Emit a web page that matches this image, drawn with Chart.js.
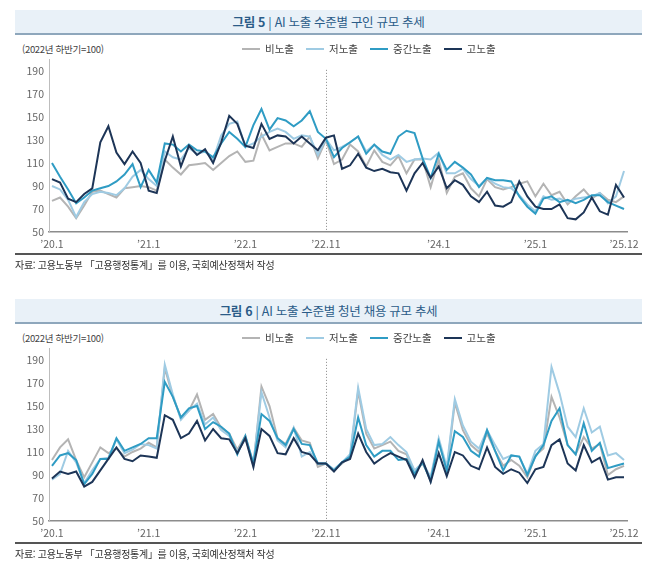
<!DOCTYPE html>
<html lang="ko">
<head>
<meta charset="UTF-8">
<title>AI 노출 수준별 구인·채용 규모 추세</title>
<script src="https://cdn.jsdelivr.net/npm/chart.js@4/dist/chart.umd.min.js"></script>
<style>
    body {
        margin: 0;
        width: 658px;
        height: 566px;
        background: #fff;
        font-family: "Noto Sans CJK KR", sans-serif;
        position: relative;
        overflow: hidden;
    }
    .panel {
        position: absolute;
        left: 0;
        width: 658px;
        height: 289px;
    }
    .titleBar {
        position: absolute;
        left: 15px;
        top: 10px;
        width: 627px;
        height: 23px;
        background: #e9f1f8;
        border-bottom: 2px solid #8ea7bc;
        text-align: center;
        line-height: 23px;
        font-size: 12.5px;
        color: #2b5c88;
        letter-spacing: -0.3px;
    }
    .titleBar b { font-weight: 700; }
    .unit {
        position: absolute;
        left: 22px;
        top: 42px;
        font-size: 9.5px;
        color: #444;
        letter-spacing: -0.3px;
        line-height: 14px;
    }
    .legend {
        position: absolute;
        left: 242px;
        top: 42px;
        display: flex;
        gap: 12px;
        font-size: 10.5px;
        color: #444;
        line-height: 14px;
        z-index: 2;
    }
    .legend span.item { display: flex; align-items: center; }
    .legend i {
        display: inline-block;
        width: 18px;
        height: 2.5px;
        margin-right: 5px;
    }
    canvas {
        position: absolute;
        left: 0;
        top: 40px;
    }
    .sep {
        position: absolute;
        left: 15px;
        top: 253px;
        width: 627px;
        height: 1.5px;
        background: #555;
    }
    .source {
        position: absolute;
        left: 15px;
        top: 258px;
        font-size: 10px;
        color: #333;
        letter-spacing: -0.3px;
        line-height: 14px;
    }
</style>
</head>
<body>
<div class="panel" style="top:0px">
    <div class="titleBar"><b>그림 5</b> | AI 노출 수준별 구인 규모 추세</div>
    <div class="unit">(2022년 하반기=100)</div>
    <div class="legend" id="legend1"></div>
    <div style="position:absolute;left:0;top:0;width:658px;height:289px">
        <canvas id="chart1" width="658" height="215"></canvas>
    </div>
    <div class="sep"></div>
    <div class="source">자료: 고용노동부 「고용행정통계」를 이용, 국회예산정책처 작성</div>
</div>
<div class="panel" style="top:289px">
    <div class="titleBar"><b>그림 6</b> | AI 노출 수준별 청년 채용 규모 추세</div>
    <div class="unit">(2022년 하반기=100)</div>
    <div class="legend" id="legend2"></div>
    <div style="position:absolute;left:0;top:0;width:658px;height:289px">
        <canvas id="chart2" width="658" height="215"></canvas>
    </div>
    <div class="sep"></div>
    <div class="source">자료: 고용노동부 「고용행정통계」를 이용, 국회예산정책처 작성</div>
</div>

<script>
    // series names and colours
    const seriesNames = ['비노출', '저노출', '중간노출', '고노출'];
    const seriesColors = ['#b4b4b4', '#9fcbe3', '#2f9cc4', '#1d3557'];

    // x axis: months 2020.1 ~ 2025.12 (index 0..71), labelled ticks only
    const tickIndex = [0, 12, 24, 34, 48, 60, 71];
    const tickText = ['’20.1', '’21.1', '’22.1', '’22.11', '’24.1', '’25.1', '’25.12'];
    const dividerIndex = 34;
    const yTicks = [50, 70, 90, 110, 130, 150, 170, 190];

    // 그림 5 : 구인 규모
    const jobNone = [77, 80, 72, 62, 73, 85, 86, 83, 80, 88, 89, 90, 89, 86, 113, 106, 100, 108, 109, 110, 104, 110, 116, 120, 111, 112, 135, 121, 124, 127, 127, 124, 133, 114, 130,
        109, 113, 126, 120, 107, 121, 111, 108, 116, 101, 113, 113, 89, 113, 84, 98, 101, 88,
        81, 96, 89, 87, 89, 92, 94, 81, 92, 82, 85, 74, 81, 87, 79, 84, 78, 76, 81];
    const jobLow = [90, 87, 78, 63, 76, 83, 85, 84, 82, 88, 98, 104, 96, 90, 120, 115, 113, 123, 118, 120, 113, 134, 144, 146, 124, 127, 133, 137, 140, 137, 131, 134, 133, 117, 131,
        121, 124, 128, 133, 120, 126, 117, 113, 117, 111, 113, 114, 113, 119, 101, 101, 105, 96,
        90, 97, 92, 89, 88, 82, 74, 68, 81, 78, 79, 76, 79, 80, 81, 84, 75, 81, 103];
    const jobMid = [110, 98, 87, 75, 80, 86, 88, 90, 94, 100, 109, 89, 104, 93, 127, 126, 120, 126, 121, 120, 115, 127, 137, 131, 124, 143, 157, 139, 149, 147, 142, 147, 155, 137, 131,
        115, 123, 128, 133, 118, 126, 120, 118, 133, 138, 136, 114, 97, 118, 104, 111, 106, 100,
        89, 97, 95, 95, 94, 81, 72, 66, 79, 81, 76, 78, 75, 78, 82, 82, 76, 73, 70];
    const jobHigh = [96, 93, 79, 76, 83, 88, 128, 142, 119, 109, 120, 110, 86, 84, 112, 133, 107, 125, 117, 122, 110, 128, 151, 144, 125, 123, 144, 131, 134, 133, 127, 133, 127, 121, 132,
        134, 105, 108, 118, 106, 103, 105, 102, 101, 86, 101, 110, 97, 107, 88, 95, 91, 81,
        76, 85, 73, 72, 76, 94, 81, 72, 70, 70, 74, 62, 61, 67, 80, 68, 65, 91, 80];

    // 그림 6 : 청년 채용 규모
    const youthNone = [103, 114, 121, 103, 88, 101, 114, 109, 113, 106, 110, 113, 118, 114, 183, 158, 140, 146, 160, 138, 143, 131, 126, 112, 124, 98, 167, 150, 122, 117, 131, 120, 118, 97, 100,
        94, 100, 106, 163, 126, 113, 116, 119, 111, 108, 93, 100, 87, 120, 94, 153, 129, 116,
        110, 126, 111, 98, 103, 98, 88, 107, 113, 158, 140, 116, 108, 123, 113, 117, 90, 95, 98];
    const youthLow = [86, 91, 111, 101, 83, 94, 104, 105, 121, 109, 112, 117, 116, 113, 186, 160, 138, 146, 152, 134, 140, 129, 124, 110, 122, 100, 162, 140, 120, 114, 131, 106, 110, 100, 100,
        95, 101, 108, 166, 130, 116, 117, 123, 116, 110, 94, 101, 88, 122, 97, 156, 133, 119,
        113, 129, 116, 104, 107, 106, 91, 111, 117, 184, 161, 132, 123, 148, 127, 132, 107, 109, 103];
    const youthMid = [98, 107, 109, 103, 82, 91, 104, 104, 122, 111, 114, 117, 122, 122, 171, 158, 140, 148, 150, 130, 136, 132, 126, 108, 124, 100, 143, 137, 122, 116, 130, 117, 116, 100, 100,
        94, 101, 106, 140, 116, 106, 111, 111, 103, 104, 91, 101, 85, 119, 94, 128, 123, 111,
        106, 129, 111, 94, 107, 106, 90, 106, 116, 137, 148, 116, 108, 135, 111, 118, 96, 98, 100];
    const youthHigh = [87, 93, 91, 93, 80, 84, 94, 104, 114, 104, 102, 107, 106, 105, 142, 138, 122, 126, 137, 120, 130, 122, 121, 109, 122, 97, 130, 124, 109, 108, 122, 110, 108, 100, 100,
        93, 101, 104, 126, 110, 100, 105, 109, 106, 103, 88, 103, 84, 109, 89, 110, 107, 98,
        95, 114, 97, 91, 95, 92, 83, 95, 97, 116, 121, 100, 94, 116, 101, 105, 86, 88, 88];

    const tickFont = { family: '"Noto Sans CJK KR", sans-serif', size: 10.5 };

    // dotted divider at '22.11
    const dividerPlugin = {
        id: 'divider',
        beforeDatasetsDraw(chart) {
            const { ctx, chartArea, scales } = chart;
            const x = Math.round(scales.x.getPixelForValue(dividerIndex)) + 0.5;
            ctx.save();
            ctx.strokeStyle = '#888';
            ctx.lineWidth = 1;
            ctx.setLineDash([1, 2]);
            ctx.beginPath();
            ctx.moveTo(x, scales.y.getPixelForValue(191));
            ctx.lineTo(x, chartArea.bottom);
            ctx.stroke();
            ctx.restore();
        }
    };

    function buildLegend(id) {
        const box = document.getElementById(id);
        seriesNames.forEach((name, k) => {
            const item = document.createElement('span');
            item.className = 'item';
            item.innerHTML = '<i style="background:' + seriesColors[k] + '"></i>' + name;
            box.appendChild(item);
        });
    }

    function makeChart(canvasId, seriesList) {
        const datasets = seriesList.map((values, k) => ({
            label: seriesNames[k],
            data: values.map((v, i) => ({ x: i, y: v })),
            borderColor: seriesColors[k],
            backgroundColor: seriesColors[k],
            borderWidth: 2,
            pointRadius: 0,
            tension: 0,
            order: 4 - k
        }));
        return new Chart(document.getElementById(canvasId), {
            type: 'line',
            data: { datasets: datasets },
            plugins: [dividerPlugin],
            options: {
                responsive: false,
                animation: false,
                layout: { padding: { top: 19.5, right: 31, left: 0, bottom: 0 } },
                plugins: { legend: { display: false }, tooltip: { enabled: false } },
                scales: {
                    x: {
                        type: 'linear',
                        min: -0.37,
                        max: 71.37,
                        grid: { display: false, drawTicks: false },
                        border: { display: true, color: '#8c8c8c', width: 1.5 },
                        afterBuildTicks: s => { s.ticks = tickIndex.map(v => ({ value: v })); },
                        afterFit: s => { s.height = 23; },
                        ticks: {
                            autoSkip: false,
                            maxRotation: 0,
                            padding: 6,
                            color: '#666',
                            font: tickFont,
                            callback: v => tickText[tickIndex.indexOf(v)]
                        }
                    },
                    y: {
                        min: 50,
                        max: 200,
                        grid: { display: false, drawTicks: false },
                        border: { display: true, color: '#bdbdbd', width: 1 },
                        afterBuildTicks: s => { s.ticks = yTicks.map(v => ({ value: v })); },
                        afterFit: s => { s.width = 49; },
                        ticks: { padding: 5, color: '#666', font: tickFont }
                    }
                }
            }
        });
    }

    buildLegend('legend1');
    buildLegend('legend2');
    makeChart('chart1', [jobNone, jobLow, jobMid, jobHigh]);
    makeChart('chart2', [youthNone, youthLow, youthMid, youthHigh]);
</script>
</body>
</html>
